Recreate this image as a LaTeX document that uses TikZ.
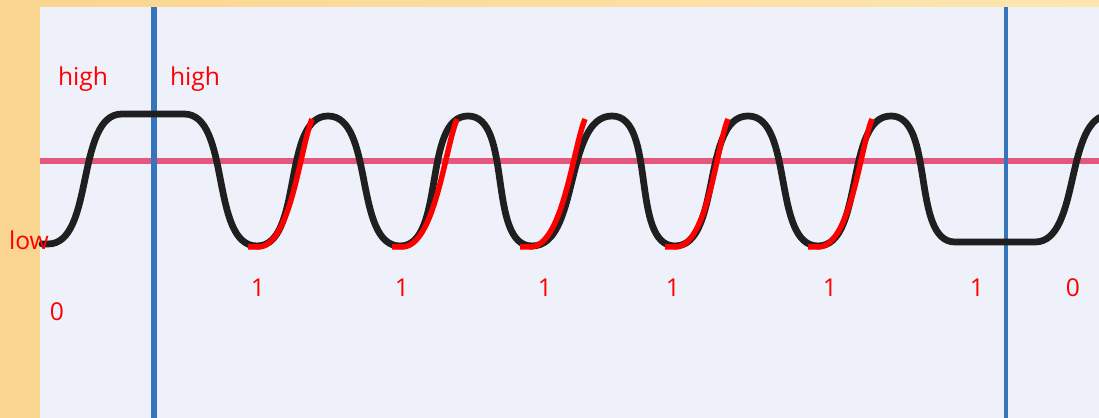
\documentclass[tikz,border=0pt]{standalone}
\usepackage{fontspec}
\setmainfont{Open Sans}
\usepackage{tikz}
\usetikzlibrary{positioning}
\usepackage{xcolor}

\definecolor{frameA}{HTML}{FAD590}
\definecolor{frameB}{HTML}{FDE6B0}
\definecolor{paper}{HTML}{EEF1FA}
\definecolor{margin}{HTML}{3674BC}
\definecolor{rule}{HTML}{E4587E}
\definecolor{pen}{HTML}{FF0000}
\definecolor{ink}{HTML}{1F1F1F}

\begin{document}
\begin{tikzpicture}[
x=0.025cm, y=0.025cm,
every node/.style={font=\fontsize{17.5}{20}\selectfont, text=pen, inner sep=0pt},
wave/.style={ink, line width=4.8pt, line cap=round, line join=round},
edge/.style={pen, line width=3.9pt},
margin line/.style={margin, line width=3.6pt},
swing/.style={out=0, in=180, looseness=0.8}
]

\useasboundingbox (0,0) rectangle (1099,418);
\fill[left color=frameA, right color=frameB] (0,0) rectangle (1099,418);
\fill[paper] (40,0) rectangle (1099,411);

\draw[rule, line width=4.2pt] (40,257) -- (1099,257);
\draw[margin line] (154,0) -- (154,411);
\draw[margin line, line width=2.8pt] (1006,0) -- (1006,411);

\draw[wave] (42,174) -- (48,174) to[swing] (122,304) -- (184,304)
  to[swing] (257,172) to[swing] (328,302)
  to[swing] (400,172) to[swing] (468,302)
  to[swing] (532,172) to[swing] (612,302)
  to[swing] (675,172) to[swing] (748,302)
  to[swing] (818,172) to[swing] (891,302)
  to[swing] (955,176) -- (1035,176) to[swing] (1110,303);

\draw[edge] (248,171) -- (258,171) to[out=0,in=-112,looseness=0.6] (312,299);
\draw[edge] (392,171) -- (402,171) to[out=0,in=-112,looseness=0.6] (457,299);
\draw[edge] (520,171) -- (530,171) to[out=0,in=-112,looseness=0.6] (585,299);
\draw[edge] (665,171) -- (675,171) to[out=0,in=-112,looseness=0.6] (728,299);
\draw[edge] (808,171) -- (818,171) to[out=0,in=-112,looseness=0.6] (872,299);

\node (high1) at (83,339) {high};
\node (high2) at (195,339) {high};
\node (low) at (29,178) {low};
\node (start0) at (57,106) {0};

\node (bit1) at (258,130) {1};
\node (bit2) at (402,130) {1};
\node (bit3) at (545,130) {1};
\node (bit4) at (673,130) {1};
\node (bit5) at (830,130) {1};
\node (bit6) at (977,130) {1};
\node (end0) at (1073,130) {0};

\end{tikzpicture}
\end{document}
